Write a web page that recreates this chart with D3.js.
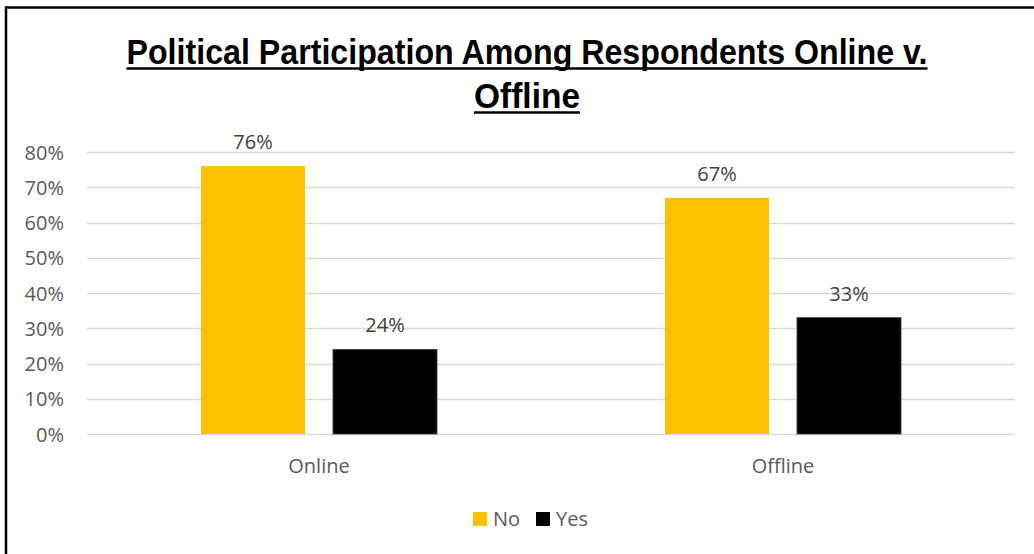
<!DOCTYPE html>
<html>
<head>
<meta charset="utf-8">
<script src="https://cdn.jsdelivr.net/npm/d3@7"></script>
<style>
  html, body { margin: 0; padding: 0; background: #fff; }
  svg { display: block; }
</style>
</head>
<body>
<div id="chart"></div>
<script>
// Chart data
const categories = ["Online", "Offline"];
const seriesNames = ["No", "Yes"];
const noValues = [76, 67];
const yesValues = [24, 33];
const yTicks = [0, 10, 20, 30, 40, 50, 60, 70, 80];
const titleLines = ["Political Participation Among Respondents Online v.", "Offline"];

const seriesColors = { No: "#FFC000", Yes: "#000000" };
const W = 1034, H = 554;
const plot = { left: 87, right: 1015, top: 152, bottom: 434 };
const labelFont = "'Open Sans', sans-serif";
const labelSize = 20;

const svg = d3.select("#chart").append("svg")
  .attr("width", W).attr("height", H);

svg.append("rect").attr("width", W).attr("height", H).attr("fill", "#fff");

// Frame (top and left edges)
svg.append("line").attr("x1", 5).attr("x2", W).attr("y1", 7.5).attr("y2", 7.5)
  .attr("stroke", "#000").attr("stroke-width", 2.5);
svg.append("line").attr("x1", 6).attr("x2", 6).attr("y1", 6.5).attr("y2", H)
  .attr("stroke", "#000").attr("stroke-width", 2.5);

// Scales
const x0 = d3.scaleBand().domain(categories).range([plot.left, plot.right]).paddingInner(0).paddingOuter(0);
const y = d3.scaleLinear().domain([0, 80]).range([plot.bottom, plot.top]);

// Grid lines
svg.append("g").selectAll("line").data(yTicks).join("line")
  .attr("x1", plot.left).attr("x2", plot.right)
  .attr("y1", d => Math.round(y(d)) + 0.5).attr("y2", d => Math.round(y(d)) + 0.5)
  .attr("stroke", "#D9D9D9").attr("stroke-width", 1.5);

// Y axis tick labels
const yAxis = d3.axisLeft(y).tickValues(yTicks).tickFormat(d => d + "%").tickSize(0).tickPadding(0);
const gy = svg.append("g").attr("transform", `translate(64,0)`).call(yAxis);
gy.select(".domain").remove();
gy.selectAll("text")
  .attr("font-family", labelFont).attr("font-size", labelSize)
  .attr("fill", "#595959").attr("dy", "0.35em");

// Bars: each group is 236px wide, centred in its category band
const groupW = 236;
const x1 = d3.scaleBand().domain(seriesNames).range([0, groupW]).paddingInner(28 / 132).paddingOuter(0);

const rows = categories.map((c, i) => ({ cat: c, No: noValues[i], Yes: yesValues[i] }));

const groups = svg.append("g").selectAll("g").data(rows).join("g")
  .attr("transform", d => `translate(${x0(d.cat) + (x0.bandwidth() - groupW) / 2},0)`);

groups.selectAll("rect").data(d => seriesNames.map(s => ({ s, v: d[s] }))).join("rect")
  .attr("x", d => x1(d.s)).attr("width", x1.bandwidth())
  .attr("y", d => y(d.v)).attr("height", d => y(0) - y(d.v))
  .attr("fill", d => seriesColors[d.s])
  .attr("stroke", d => d.s === "Yes" ? "#3a3a3a" : "none").attr("stroke-width", 0.8);

// Data labels
groups.selectAll("text.val").data(d => seriesNames.map(s => ({ s, v: d[s] }))).join("text")
  .attr("class", "val")
  .attr("x", d => x1(d.s) + x1.bandwidth() / 2)
  .attr("y", d => y(d.v) - 17)
  .attr("text-anchor", "middle")
  .attr("font-family", labelFont).attr("font-size", labelSize)
  .attr("fill", "#404040")
  .text(d => d.v + "%");

// Category labels
const xAxis = d3.axisBottom(x0).tickSize(0).tickPadding(0);
const gx = svg.append("g").attr("transform", `translate(0,${plot.bottom})`).call(xAxis);
gx.select(".domain").remove();
gx.selectAll("text")
  .attr("font-family", labelFont).attr("font-size", labelSize)
  .attr("fill", "#595959").attr("dy", 0).attr("y", 39);

// Title, bold and underlined, condensed to its line widths
const titleFont = "'Liberation Sans', sans-serif";
const titleSize = 34.5;
const titleSpecs = [
  { text: titleLines[0], baseline: 63.5, width: 801 },
  { text: titleLines[1], baseline: 107.5, width: 106 }
];
titleSpecs.forEach(spec => {
  svg.append("text")
    .attr("x", 527).attr("y", spec.baseline)
    .attr("text-anchor", "middle")
    .attr("font-family", titleFont).attr("font-weight", "bold")
    .attr("font-size", titleSize).attr("fill", "#000")
    .attr("textLength", spec.width).attr("lengthAdjust", "spacingAndGlyphs")
    .text(spec.text);
  svg.append("line")
    .attr("x1", 527 - spec.width / 2).attr("x2", 527 + spec.width / 2)
    .attr("y1", spec.baseline + 5).attr("y2", spec.baseline + 5)
    .attr("stroke", "#000").attr("stroke-width", 2.5);
});

// Legend
const legend = svg.append("g").attr("transform", "translate(473,519)");
const legendItems = legend.selectAll("g").data(seriesNames).join("g")
  .attr("transform", (d, i) => `translate(${i * 63},0)`);
legendItems.append("rect").attr("x", 0).attr("y", -7).attr("width", 14).attr("height", 14)
  .attr("fill", d => seriesColors[d]);
legendItems.append("text").attr("x", 20).attr("y", 0).attr("dy", "0.35em")
  .attr("font-family", labelFont).attr("font-size", labelSize)
  .attr("fill", "#595959").text(d => d);
</script>
</body>
</html>
